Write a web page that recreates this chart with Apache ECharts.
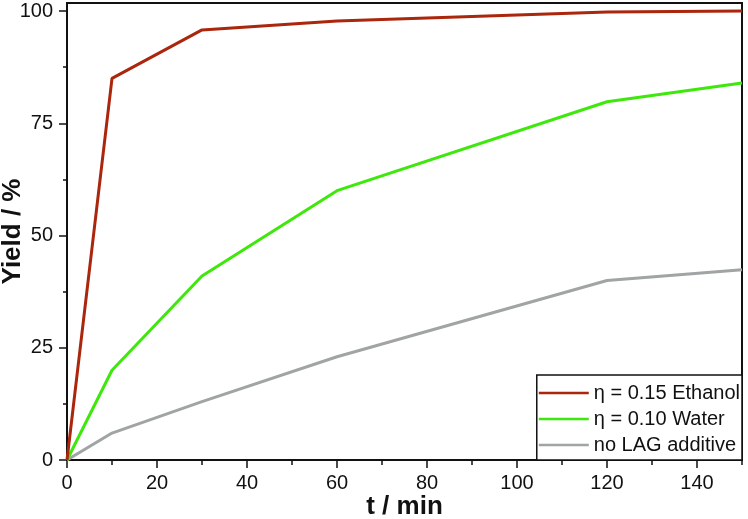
<!DOCTYPE html>
<html>
<head>
<meta charset="utf-8">
<script src="https://cdn.jsdelivr.net/npm/echarts@6/dist/echarts.min.js"></script>
<style>
html,body{margin:0;padding:0;background:#fff;}
#chart{width:748px;height:519px;}
</style>
</head>
<body>
<div id="chart"></div>
<script>
const seriesNames = ['η = 0.15 Ethanol', 'η = 0.10 Water', 'no LAG additive'];
const timeEthanol = [0, 10, 30, 60, 120, 150];
const yieldEthanol = [0, 85, 95.8, 97.8, 99.8, 100];
const timeWater = [0, 10, 30, 60, 120, 150];
const yieldWater = [0, 20, 41, 60, 79.8, 84];
const timeNone = [0, 10, 30, 60, 120, 150];
const yieldNone = [0, 6, 13, 23, 40, 42.4];
const xMajorTicks = [0, 20, 40, 60, 80, 100, 120, 140];
const xMinorTicks = [10, 30, 50, 70, 90, 110, 130, 150];
const yMajorTicks = [0, 25, 50, 75, 100];
const yMinorTicks = [12.5, 37.5, 62.5, 87.5];
const colors = ['#aa260c', '#3fe80c', '#a0a4a4'];

const pair = (xs, ys) => xs.map((x, i) => [x, ys[i]]);
const font = 'Liberation Sans, Arial, sans-serif';
const ink = '#111';

const chart = echarts.init(document.getElementById('chart'), null, {renderer: 'canvas'});
const baseX = {type: 'value', min: 0, max: 150, interval: 10, gridIndex: 0, position: 'bottom', splitLine: {show: false}};
const baseY = {type: 'value', min: 0, max: 101.8, interval: 12.5, gridIndex: 0, position: 'left', splitLine: {show: false}};
chart.setOption({
  animation: false,
  backgroundColor: '#fff',
  color: colors,
  grid: {left: 67, right: 6, top: 3, bottom: 59, containLabel: false, outerBoundsMode: 'none',
         show: true, borderColor: ink, borderWidth: 2, backgroundColor: 'transparent'},
  xAxis: [
    Object.assign({}, baseX, {
      name: 't / min', nameLocation: 'middle', nameGap: 34, nameMoveOverlap: false,
      nameTextStyle: {fontFamily: font, fontSize: 26, fontWeight: 'bold', color: ink},
      axisLine: {show: true, lineStyle: {color: ink, width: 2}},
      axisTick: {show: true, inside: false, length: 8, customValues: xMajorTicks, lineStyle: {color: ink, width: 1.5}},
      axisLabel: {show: true, margin: 13, customValues: xMajorTicks, fontFamily: font, fontSize: 20, color: ink}
    }),
    Object.assign({}, baseX, {
      axisLine: {show: false},
      axisTick: {show: true, inside: false, length: 5, customValues: xMinorTicks, lineStyle: {color: ink, width: 1.5}},
      axisLabel: {show: false}
    })
  ],
  yAxis: [
    Object.assign({}, baseY, {
      name: 'Yield / %', nameLocation: 'middle', nameGap: 41, nameRotate: 90, nameMoveOverlap: false,
      nameTextStyle: {fontFamily: font, fontSize: 26, fontWeight: 'bold', color: ink},
      axisLine: {show: true, lineStyle: {color: ink, width: 2}},
      axisTick: {show: true, inside: false, length: 8, customValues: yMajorTicks, lineStyle: {color: ink, width: 1.5}},
      axisLabel: {show: true, margin: 14, customValues: yMajorTicks, fontFamily: font, fontSize: 20, color: ink}
    }),
    Object.assign({}, baseY, {
      axisLine: {show: false},
      axisTick: {show: true, inside: false, length: 4, customValues: yMinorTicks, lineStyle: {color: ink, width: 1.5}},
      axisLabel: {show: false}
    })
  ],
  legend: {
    orient: 'vertical', right: 6, bottom: 59,
    backgroundColor: '#fff', borderColor: ink, borderWidth: 1.5, borderRadius: 0,
    padding: [8, 2, 5, 2], itemGap: 6,
    icon: 'rect', itemWidth: 50, itemHeight: 2.5,
    textStyle: {fontFamily: font, fontSize: 20, color: ink},
    data: seriesNames
  },
  series: [
    {name: seriesNames[0], type: 'line', data: pair(timeEthanol, yieldEthanol), xAxisIndex: 0, yAxisIndex: 0, symbol: 'none', lineStyle: {width: 3, color: colors[0]}, z: 3},
    {name: seriesNames[1], type: 'line', data: pair(timeWater, yieldWater), xAxisIndex: 0, yAxisIndex: 0, symbol: 'none', lineStyle: {width: 3, color: colors[1]}, z: 2},
    {name: seriesNames[2], type: 'line', data: pair(timeNone, yieldNone), xAxisIndex: 0, yAxisIndex: 0, symbol: 'none', lineStyle: {width: 3, color: colors[2]}, z: 1}
  ]
});
</script>
</body>
</html>
